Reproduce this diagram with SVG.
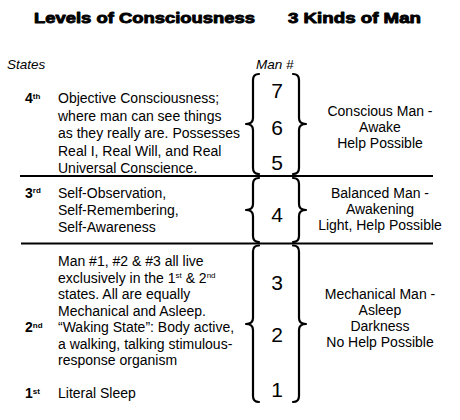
<svg xmlns="http://www.w3.org/2000/svg" width="460" height="420" viewBox="0 0 460 420">
<style>
text{font-family:"Liberation Sans",Arial,sans-serif;fill:#000}
.title{font-size:15px;font-weight:bold;stroke:#000;stroke-width:0.9;stroke-linejoin:round}
.hdr{font-size:13.5px;font-style:italic}
.lvl{font-size:14px;font-weight:bold}
.sup{font-size:8px;font-weight:bold}
.sups{font-size:8px}
.body{font-size:14px}
.right{font-size:14px;text-anchor:middle}
.num{font-size:21px;text-anchor:middle}
.brace{fill:none;stroke:#000;stroke-width:2.2;stroke-linecap:round;stroke-linejoin:round}
.rule{stroke:#000;stroke-width:2}
</style>
<rect width="460" height="420" fill="#fff"/>
<g id="titles">
<text class="title" x="34" y="23" textLength="221" lengthAdjust="spacingAndGlyphs">Levels of Consciousness</text>
<text class="title" x="288" y="23" textLength="133" lengthAdjust="spacingAndGlyphs">3 Kinds of Man</text>
<text class="hdr" x="7" y="69">States</text>
<text class="hdr" x="256" y="69">Man #</text>
</g>
<g id="rules">
<line class="rule" x1="20" y1="176" x2="433" y2="176"/>
<line class="rule" x1="21" y1="243.5" x2="433" y2="243.5"/>
</g>
<g id="connectors">
<path class="brace" d="M259,74 Q253,74 253,80 L253,118 Q253,124 246,124 Q253,124 253,130 L253,168 Q253,174 259,174"/>
<path class="brace" d="M293,74 Q299,74 299,80 L299,118 Q299,124 306,124 Q299,124 299,130 L299,168 Q299,174 293,174"/>
<path class="brace" d="M259,178 Q253,178 253,184 L253,204 Q253,210 246,210 Q253,210 253,216 L253,236 Q253,242 259,242"/>
<path class="brace" d="M293,178 Q299,178 299,184 L299,204 Q299,210 306,210 Q299,210 299,216 L299,236 Q299,242 293,242"/>
<path class="brace" d="M259,245.5 Q253,245.5 253,251.5 L253,318 Q253,324 246,324 Q253,324 253,330 L253,396 Q253,402 259,402"/>
<path class="brace" d="M293,245.5 Q299,245.5 299,251.5 L299,318 Q299,324 306,324 Q299,324 299,330 L299,396 Q299,402 293,402"/>
</g>
<g id="state4">
<text class="lvl" x="25" y="103">4<tspan class="sup" dy="-4.5">th</tspan></text>
<text class="body" x="58" y="103">Objective Consciousness;</text>
<text class="body" x="58" y="120.5">where man can see things</text>
<text class="body" x="58" y="138">as they really are. Possesses</text>
<text class="body" x="58" y="155.5">Real I, Real Will, and Real</text>
<text class="body" x="58" y="173">Universal Conscience.</text>
</g>
<g id="man567">
<text class="num" x="277" y="98">7</text>
<text class="num" x="277" y="135">6</text>
<text class="num" x="277" y="170">5</text>
</g>
<g id="kind-conscious">
<text class="right" x="380" y="116">Conscious Man -</text>
<text class="right" x="380" y="132">Awake</text>
<text class="right" x="380" y="148">Help Possible</text>
</g>
<g id="state3">
<text class="lvl" x="25" y="197.5">3<tspan class="sup" dy="-4.5">rd</tspan></text>
<text class="body" x="58" y="197.5">Self-Observation,</text>
<text class="body" x="58" y="214.5">Self-Remembering,</text>
<text class="body" x="58" y="231.5">Self-Awareness</text>
</g>
<g id="man4">
<text class="num" x="277" y="221.5">4</text>
</g>
<g id="kind-balanced">
<text class="right" x="380" y="197.5">Balanced Man -</text>
<text class="right" x="380" y="213.5">Awakening</text>
<text class="right" x="380" y="230">Light, Help Possible</text>
</g>
<g id="state2">
<text class="body" x="58" y="266">Man #1, #2 &amp; #3 all live</text>
<text class="body" x="58" y="282.5">exclusively in the 1<tspan class="sups" dy="-4.5">st</tspan><tspan dy="4.5"> &amp; 2</tspan><tspan class="sups" dy="-4.5">nd</tspan></text>
<text class="body" x="58" y="299">states. All are equally</text>
<text class="body" x="58" y="315.5">Mechanical and Asleep.</text>
<text class="lvl" x="25" y="332">2<tspan class="sup" dy="-4.5">nd</tspan></text>
<text class="body" x="58" y="332">“Waking State”: Body active,</text>
<text class="body" x="58" y="348.5">a walking, talking stimulous-</text>
<text class="body" x="58" y="365">response organism</text>
</g>
<g id="state1">
<text class="lvl" x="25" y="398">1<tspan class="sup" dy="-4.5">st</tspan></text>
<text class="body" x="58" y="398">Literal Sleep</text>
</g>
<g id="man123">
<text class="num" x="277" y="290">3</text>
<text class="num" x="277" y="342">2</text>
<text class="num" x="277" y="397">1</text>
</g>
<g id="kind-mechanical">
<text class="right" x="380" y="298.5">Mechanical Man -</text>
<text class="right" x="380" y="314.5">Asleep</text>
<text class="right" x="380" y="330.5">Darkness</text>
<text class="right" x="380" y="346.5">No Help Possible</text>
</g>
</svg>
